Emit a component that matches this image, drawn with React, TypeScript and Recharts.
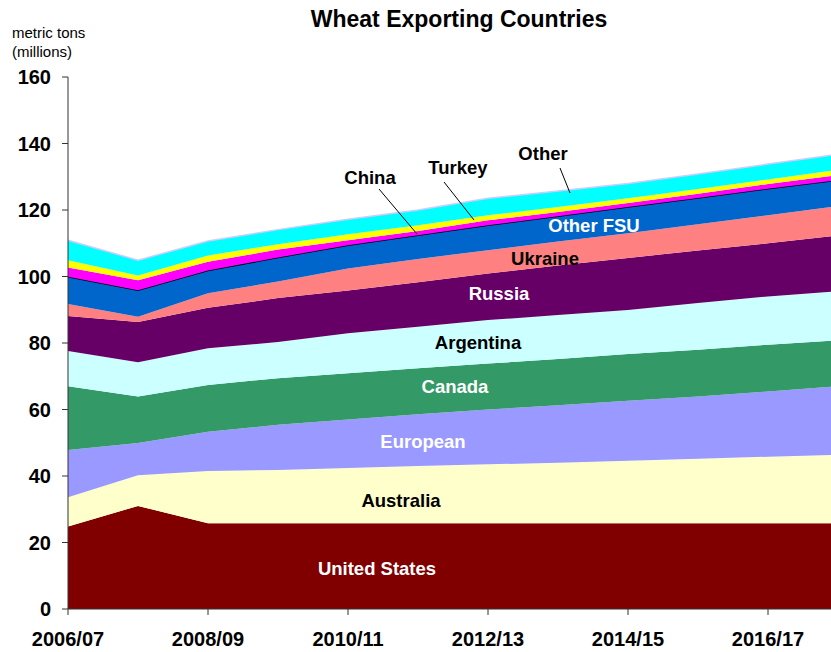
import { AreaChart, Area, XAxis, YAxis } from 'recharts';

// marketing years
const years = [
  '2006/07', '2007/08', '2008/09', '2009/10', '2010/11', '2011/12',
  '2012/13', '2013/14', '2014/15', '2015/16', '2016/17', '2017/18',
];

// exports by country, million metric tons
const unitedStates = [24.8, 31.0, 25.8, 25.8, 25.8, 25.8, 25.8, 25.8, 25.8, 25.8, 25.8, 25.8];
const australia = [8.8, 9.2, 15.7, 16.0, 16.6, 17.2, 17.7, 18.2, 18.8, 19.4, 20.0, 20.6];
const european = [14.2, 9.7, 11.8, 13.6, 14.6, 15.6, 16.5, 17.3, 18.0, 18.7, 19.6, 20.6];
const canada = [19.2, 14.0, 14.1, 14.0, 13.9, 13.8, 13.8, 13.9, 14.1, 14.1, 14.1, 13.8];
const argentina = [10.6, 10.3, 11.0, 10.9, 12.0, 12.5, 13.1, 13.2, 13.2, 14.0, 14.5, 14.8];
const russia = [10.5, 12.1, 12.2, 13.2, 12.9, 13.4, 14.0, 14.9, 15.7, 15.8, 16.0, 16.7];
const ukraine = [3.6, 1.6, 4.4, 5.0, 6.6, 7.0, 7.0, 7.2, 7.4, 7.9, 8.4, 8.9];
const otherFsu = [8.2, 8.0, 6.8, 7.2, 7.0, 7.1, 7.5, 7.6, 7.9, 7.9, 8.0, 7.8];
const china = [2.8, 3.0, 2.6, 2.4, 1.5, 1.3, 1.5, 1.3, 1.2, 1.3, 1.4, 1.5];
const turkey = [2.2, 1.4, 1.9, 1.6, 1.8, 1.7, 1.5, 1.5, 1.4, 1.4, 1.4, 1.6];
const other = [6.0, 4.6, 4.4, 4.4, 4.5, 4.6, 5.1, 4.8, 4.5, 4.5, 4.6, 4.7];

const yTicks = [0, 20, 40, 60, 80, 100, 120, 140, 160];

const series = [
  { key: 'us', values: unitedStates, fill: '#800000' },
  { key: 'australia', values: australia, fill: '#FFFFCC' },
  { key: 'european', values: european, fill: '#9999FF' },
  { key: 'canada', values: canada, fill: '#339966' },
  { key: 'argentina', values: argentina, fill: '#CCFFFF' },
  { key: 'russia', values: russia, fill: '#660066' },
  { key: 'ukraine', values: ukraine, fill: '#FF8080' },
  { key: 'otherFsu', values: otherFsu, fill: '#0066CC', stroke: '#000000' },
  { key: 'china', values: china, fill: '#FF00FF' },
  { key: 'turkey', values: turkey, fill: '#FFFF00' },
  { key: 'other', values: other, fill: '#00FFFF', stroke: '#CCCCFF' },
];

const data = years.map((year, i) => {
  const row: Record<string, string | number> = { year };
  series.forEach(s => {
    row[s.key] = s.values[i];
  });
  return row;
});

const font = '"Liberation Sans", Arial, sans-serif';
const tickStyle = { fontSize: 20, fontWeight: 'bold', fill: '#000', fontFamily: font };

export default function App() {
  return (
    <div
      style={{
        position: 'fixed',
        left: 0,
        top: 0,
        width: 831,
        height: 652,
        overflow: 'hidden',
        background: '#fff',
        fontFamily: font,
      }}
    >
      <AreaChart width={852} height={652} data={data} margin={{ top: 77, right: 14, left: 0, bottom: 0 }}>
        <XAxis
          dataKey="year"
          interval={1}
          height={43}
          tickSize={6}
          tickMargin={17}
          tick={tickStyle}
          stroke="#333"
        />
        <YAxis
          width={68}
          domain={[0, 160]}
          ticks={yTicks}
          interval={0}
          tickSize={6}
          tickMargin={11}
          tick={tickStyle}
          stroke="#333"
        />
        {series.map(s => (
          <Area
            key={s.key}
            type="linear"
            dataKey={s.key}
            stackId="1"
            fill={s.fill}
            fillOpacity={1}
            stroke={s.stroke || 'none'}
            strokeWidth={s.stroke ? 1.5 : 0}
            isAnimationActive={false}
            dot={false}
            activeDot={false}
          />
        ))}
      </AreaChart>

      <svg
        width={831}
        height={652}
        style={{ position: 'absolute', left: 0, top: 0, pointerEvents: 'none' }}
        fontFamily={font}
      >
        <text x={459} y={27} textAnchor="middle" fontSize={23} fontWeight="bold">
          Wheat Exporting Countries
        </text>
        <text x={12} y={38} fontSize={15}>metric tons</text>
        <text x={12} y={57} fontSize={15}>(millions)</text>

        <g fontSize={18.5} fontWeight="bold" textAnchor="middle">
          <text x={377} y={575} fill="#fff">United States</text>
          <text x={401} y={507} fill="#000">Australia</text>
          <text x={423} y={448} fill="#fff">European</text>
          <text x={455} y={393} fill="#fff">Canada</text>
          <text x={478} y={349} fill="#000">Argentina</text>
          <text x={499} y={300} fill="#fff">Russia</text>
          <text x={545} y={265} fill="#000">Ukraine</text>
          <text x={594} y={232} fill="#fff">Other FSU</text>
          <text x={370} y={184} fill="#000">China</text>
          <text x={458} y={174} fill="#000">Turkey</text>
          <text x={543} y={160} fill="#000">Other</text>
        </g>

        <g stroke="#000" strokeWidth={1}>
          <line x1={379} y1={189} x2={417} y2={234} />
          <line x1={444} y1={182} x2={474} y2={220} />
          <line x1={560} y1={168} x2={570} y2={193} />
        </g>
      </svg>
    </div>
  );
}
